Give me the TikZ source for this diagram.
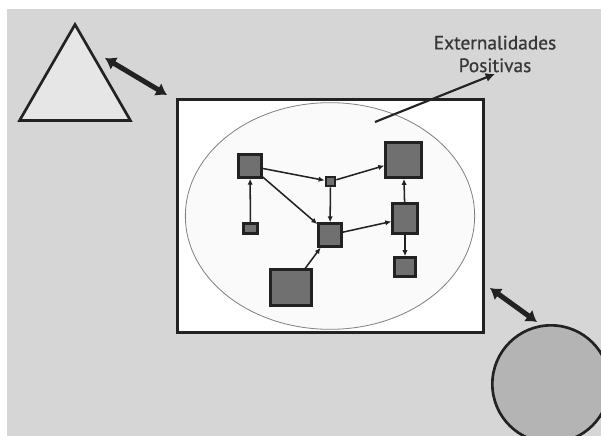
\documentclass[tikz,border=0pt]{standalone}
\usepackage{fontspec}
\newfontfamily\labelfont[FakeBold=0.8]{PT Sans}
\usetikzlibrary{arrows.meta,shapes.geometric}
\definecolor{paper}{HTML}{D6D6D6}
\definecolor{boxgray}{HTML}{707070}
\definecolor{trigray}{HTML}{E6E6E6}
\definecolor{circgray}{HTML}{B4B4B4}
\definecolor{ink}{HTML}{222222}

\tikzset{
box/.style={draw=ink,line width=1.8pt,fill=boxgray,inner sep=0pt},
link/.style={draw=ink,line width=1.15pt,-{Latex[length=4.5pt,width=4pt]}},
bigarrow/.style={ink,line width=3.8pt,{Latex[length=8pt,width=11pt]}-{Latex[length=8pt,width=11pt]}}
}

\begin{document}
\begin{tikzpicture}[x=0.75pt,y=-0.75pt]
\fill[white] (0,0) rectangle (601,436);
\fill[paper] (7,9) rectangle (601,436);
\useasboundingbox (0,0) rectangle (601,436);

% outside shapes
\node[draw=ink,line width=2pt,fill=trigray,regular polygon,regular polygon sides=3,minimum size=96pt,inner sep=0pt] (tri)at(75,88.5){};
\node[draw=ink,line width=2pt,fill=circgray,circle,minimum size=88pt,inner sep=0pt] (circ)at(551,384){};
\node[draw=ink,line width=2.2pt,fill=white,minimum width=230pt,minimum height=175pt,inner sep=0pt] (frame)at(330.5,216){};
\node[draw=gray,line width=0.6pt,fill=gray!4,ellipse,minimum width=217pt,minimum height=170pt,inner sep=0pt] (oval)at(330,216){};

% squares
\node[box,minimum size=17.25pt] (a)at(250,166){};
\node[box,minimum size=7pt] (b)at(330.5,181.5){};
\node[box,minimum width=27pt,minimum height=26.5pt] (c)at(403.5,160){};
\node[box,minimum width=10.5pt,minimum height=7.5pt] (d)at(250.5,228.5){};
\node[box,minimum size=17.25pt] (e)at(330,235){};
\node[box,minimum width=18.75pt,minimum height=22.5pt] (f)at(405,218.5){};
\node[box,minimum width=15.75pt,minimum height=14.5pt] (g)at(405,267){};
\node[box,minimum width=30.75pt,minimum height=27pt] (h)at(291,287.5){};

\draw[link] (d) to (a);
\draw[link] (a) to (b);
\draw[link] (a) to (e);
\draw[link] (b) to (e);
\draw[link] (b) to (c);
\draw[link] (e) to (f);
\draw[link] (f) to (c);
\draw[link] (f) to (g);
\draw[link] (h) to (e);

% label
\node[text=ink!90,align=center,font=\labelfont\fontsize{14.5}{17}\selectfont,inner sep=1pt] (ext)at(495,54){Externalidades\\Positivas};
\coordinate (p)at(375,122);
\draw[ink,line width=1.6pt,-{Latex[length=7pt,width=7pt]}] (p) to (ext.south);

% exchanges
\coordinate (t1)at(105,58);
\coordinate (t2)at(167,95);
\draw[bigarrow] (t1) to (t2);
\coordinate (c1)at(490,288);
\coordinate (c2)at(537,322);
\draw[bigarrow] (c1) to (c2);
\end{tikzpicture}
\end{document}
